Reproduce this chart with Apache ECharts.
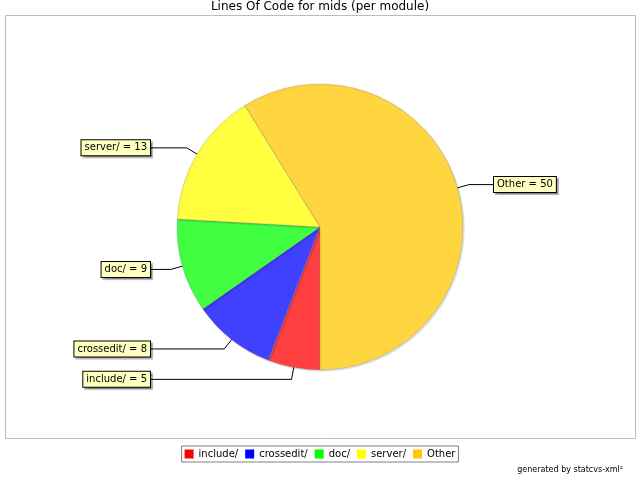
<!DOCTYPE html>
<html>
<head>
<meta charset="utf-8">
<script src="https://cdn.jsdelivr.net/npm/echarts@6/dist/echarts.min.js"></script>
<style>
html,body{margin:0;padding:0;background:#fff;}
#main{width:640px;height:480px;}
</style>
</head>
<body>
<div id="main"></div>
<script>
const titleText = 'Lines Of Code for mids (per module)';
const footerText = 'generated by statcvs-xml\u00B2';
const categories = ['include/', 'crossedit/', 'doc/', 'server/', 'Other'];
const values = [5, 8, 9, 13, 50];
const sliceColors = ['#FF4040', '#4040FF', '#40FF40', '#FFFF40', '#FFD640'];
const legendColors = ['#FF0000', '#0000FF', '#00FF00', '#FFFF00', '#FFC800'];

const FONT = 'DejaVu Sans';
const CX = 320, CY = 227, R = 143;
const LEFT_END = 151, RIGHT_END = 493, INSET = 16;

const chart = echarts.init(document.getElementById('main'), null, {renderer: 'canvas'});

const pieData = categories.map((c, i) => ({
  name: c,
  value: values[i],
  itemStyle: {color: sliceColors[i]}
}));
const legendData = categories.map((c, i) => ({
  name: c,
  itemStyle: {color: legendColors[i], borderWidth: 0, shadowBlur: 0, shadowOffsetX: 0, shadowOffsetY: 0}
}));

function layoutLabel(p) {
  const pts = p.labelLinePoints;
  if (!pts || pts.length < 3) return {};
  const p0 = pts[0], p1 = pts[1];
  const left = p1[0] < CX;
  const k = (R - INSET) / R;
  const start = [CX + (p0[0] - CX) * k, CY + (p0[1] - CY) * k];
  const endX = left ? LEFT_END : RIGHT_END;
  const r = p.labelRect;
  const dx = left ? endX - (r.x + r.width) : endX - r.x;
  return {
    dx: dx,
    dy: 0,
    labelLinePoints: [start, [p1[0], p1[1]], [endX, p1[1]]]
  };
}

chart.setOption({
  animation: false,
  backgroundColor: '#ffffff',
  title: [
    {
      text: titleText,
      left: 'center',
      top: 1,
      padding: 0,
      textStyle: {fontFamily: FONT, fontSize: 12, fontWeight: 'normal', color: '#000'}
    },
    {
      text: footerText,
      right: 17,
      top: 466,
      padding: 0,
      textStyle: {fontFamily: FONT, fontSize: 8, fontWeight: 'normal', color: '#000'}
    }
  ],
  graphic: [
    {
      type: 'rect',
      silent: true,
      z: -1,
      shape: {x: 5.5, y: 15.5, width: 630, height: 423},
      style: {fill: '#fff', stroke: '#bcbcbc', lineWidth: 1}
    }
  ],
  legend: {
    data: legendData,
    left: 'center',
    top: 446,
    orient: 'horizontal',
    icon: 'rect',
    itemWidth: 9,
    itemHeight: 9,
    itemGap: 7,
    padding: [3, 3],
    borderColor: '#808080',
    borderWidth: 1,
    textStyle: {fontFamily: FONT, fontSize: 10, color: '#000'}
  },
  series: [
    {
      type: 'pie',
      center: [CX, CY],
      radius: R,
      startAngle: 270,
      clockwise: true,
      avoidLabelOverlap: true,
      data: pieData,
      itemStyle: {
        borderColor: 'rgba(120,120,120,0.5)',
        borderWidth: 0.6,
        shadowColor: 'rgba(0,0,0,0.12)',
        shadowOffsetX: 1.5,
        shadowOffsetY: 1.5,
        shadowBlur: 1
      },
      label: {
        show: true,
        position: 'outside',
        formatter: '{b} = {c}',
        fontFamily: FONT,
        fontSize: 10,
        lineHeight: 12,
        color: '#000',
        backgroundColor: '#FFFFC0',
        borderColor: '#000',
        borderWidth: 1,
        padding: [2, 3, 1, 3],
        shadowColor: 'rgba(0,0,0,0.3)',
        shadowOffsetX: 2,
        shadowOffsetY: 2,
        shadowBlur: 1,
        distanceToLabelLine: 0
      },
      labelLine: {
        show: true,
        length: 12,
        length2: 16,
        smooth: false,
        lineStyle: {color: '#000', width: 1}
      },
      labelLayout: layoutLabel,
      emphasis: {disabled: true}
    }
  ]
});
</script>
</body>
</html>
